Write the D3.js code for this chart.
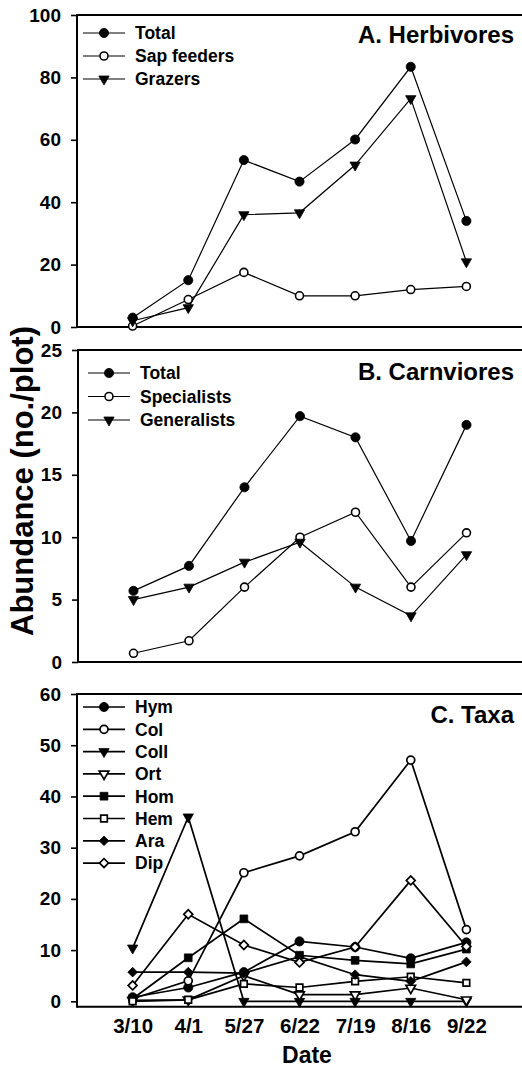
<!DOCTYPE html>
<html>
<head>
<meta charset="utf-8">
<script src="https://cdn.jsdelivr.net/npm/d3@7"></script>
<style>
  html, body { margin: 0; padding: 0; background: #fff; }
  svg { display: block; font-family: "Liberation Sans", Arial, sans-serif; font-weight: bold; }
</style>
</head>
<body>
<svg id="chart" width="522" height="1069"></svg>
<script>
// ---------------- data ----------------
const dates = ["3/10", "4/1", "5/27", "6/22", "7/19", "8/16", "9/22"];

// A. Herbivores
const herbTotal    = [3.0, 15.0, 53.5, 46.6, 60.1, 83.4, 34.0];
const herbSap      = [0.3, 8.8, 17.5, 10.0, 10.0, 12.0, 13.0];
const herbGrazers  = [2.0, 6.2, 36.0, 36.6, 51.9, 73.2, 20.9];
const herbNames    = ["Total", "Sap feeders", "Grazers"];
const herbTicks    = [0, 20, 40, 60, 80, 100];

// B. Carnivores
const carnTotal       = [5.7, 7.7, 14.0, 19.7, 18.0, 9.7, 19.0];
const carnSpecialists = [0.7, 1.7, 6.0, 10.0, 12.0, 6.0, 10.35];
const carnGeneralists = [5.0, 6.0, 8.0, 9.6, 6.0, 3.7, 8.6];
const carnNames       = ["Total", "Specialists", "Generalists"];
const carnTicks       = [0, 5, 10, 15, 20, 25];

// C. Taxa
const taxaHym  = [0.8, 2.7, 5.7, 11.7, 10.6, 8.4, 11.5];
const taxaCol  = [0.5, 4.0, 25.1, 28.4, 33.1, 47.1, 14.0];
const taxaColl = [10.4, 36.0, 0, 0, 0, 0, 0];
const taxaOrt  = [0.2, 0.3, 5.0, 1.3, 1.3, 2.6, 0.3];
const taxaHom  = [0.5, 8.5, 16.1, 9.0, 8.0, 7.3, 10.2];
const taxaHem  = [0.0, 0.3, 3.4, 2.7, 3.9, 4.8, 3.6];
const taxaAra  = [5.7, 5.7, 5.5, 8.7, 5.2, 3.9, 7.7];
const taxaDip  = [3.1, 17.0, 11.0, 7.6, 10.6, 23.6, 10.7];
const taxaNames = ["Hym", "Col", "Coll", "Ort", "Hom", "Hem", "Ara", "Dip"];
const taxaTicks = [0, 10, 20, 30, 40, 50, 60];

// ---------------- drawing ----------------
const svg = d3.select("#chart");
const W = 522;

// marker definitions: [symbol type, filled, rotation]
const markerDefs = {
  circleF:  {type: d3.symbolCircle,   size: 66, fill: true,  rot: 0},
  circleO:  {type: d3.symbolCircle,   size: 50, fill: false, rot: 0},
  triF:     {type: d3.symbolTriangle, size: 46, fill: true,  rot: 180},
  triO:     {type: d3.symbolTriangle, size: 40, fill: false, rot: 180},
  sqF:      {type: d3.symbolSquare,   size: 60, fill: true,  rot: 0},
  sqO:      {type: d3.symbolSquare,   size: 44, fill: false, rot: 0},
  diaF:     {type: d3.symbolSquare,   size: 46, fill: true,  rot: 45},
  diaO:     {type: d3.symbolSquare,   size: 40, fill: false, rot: 45}
};

function drawMarker(g, kind, x, y, sw) {
  const m = markerDefs[kind];
  g.append("path")
    .attr("d", d3.symbol(m.type, m.size)())
    .attr("transform", `translate(${x},${y}) rotate(${m.rot})`)
    .attr("fill", m.fill ? "#000" : "#fff")
    .attr("stroke", "#000")
    .attr("stroke-width", m.fill ? 0.8 : sw);
}

function panel(cfg) {
  const g = svg.append("g");
  const x = d3.scalePoint().domain(dates).range([cfg.axisX, W]).padding(1);
  const y = d3.scaleLinear().domain(cfg.domain).range([cfg.bottom, cfg.top]);

  // y axis ticks & labels
  const ax = g.append("g")
    .attr("transform", `translate(${cfg.axisX},0)`)
    .call(d3.axisLeft(y).tickValues(cfg.ticks).tickSize(6).tickPadding(10));
  ax.select(".domain").remove();
  ax.selectAll(".tick line").attr("stroke", "#000").attr("stroke-width", 1.6);
  ax.selectAll(".tick text")
    .attr("fill", "#000")
    .style("font-size", "19px")
    .style("font-weight", "bold")
    .style("font-family", '"Liberation Sans", Arial, sans-serif');

  // frame lines (left, top, bottom)
  const frame = g.append("g").attr("stroke", "#000").attr("stroke-width", 2).attr("fill", "none");
  frame.append("line").attr("x1", cfg.axisX).attr("x2", cfg.axisX).attr("y1", cfg.top - 1).attr("y2", cfg.bottom + 1);
  frame.append("line").attr("x1", cfg.axisX).attr("x2", W).attr("y1", cfg.top).attr("y2", cfg.top);
  frame.append("line").attr("x1", cfg.axisX).attr("x2", W).attr("y1", cfg.bottom).attr("y2", cfg.bottom);

  // series
  const line = d3.line().x((d, i) => x(dates[i])).y(d => y(d));
  cfg.series.forEach(s => {
    g.append("path")
      .attr("d", line(s.values))
      .attr("fill", "none")
      .attr("stroke", "#000")
      .attr("stroke-width", cfg.lineW);
    s.values.forEach((v, i) => drawMarker(g, s.marker, x(dates[i]), y(v), cfg.markW));
  });

  // legend
  cfg.series.forEach((s, i) => {
    const ly = cfg.legY + i * cfg.legStep;
    g.append("line")
      .attr("x1", cfg.legX).attr("x2", cfg.legX + 42)
      .attr("y1", ly).attr("y2", ly)
      .attr("stroke", "#000").attr("stroke-width", cfg.lineW);
    drawMarker(g, s.marker, cfg.legX + 21, ly, cfg.markW);
    g.append("text")
      .attr("x", cfg.legX + 52).attr("y", ly).attr("dy", "0.36em")
      .style("font-size", "17.5px")
      .text(s.name);
  });

  // title
  g.append("text")
    .attr("x", 514).attr("y", cfg.titleY)
    .attr("text-anchor", "end")
    .style("font-size", "24px")
    .text(cfg.title);

  return {g, x, y};
}

panel({
  top: 15, bottom: 327, axisX: 77, domain: [0, 100], ticks: herbTicks,
  lineW: 1.2, markW: 1.6, legX: 83, legY: 33, legStep: 23, titleY: 43,
  title: "A. Herbivores",
  series: [
    {name: herbNames[0], values: herbTotal,   marker: "circleF"},
    {name: herbNames[1], values: herbSap,     marker: "circleO"},
    {name: herbNames[2], values: herbGrazers, marker: "triF"}
  ]
});

panel({
  top: 350, bottom: 662, axisX: 78, domain: [0, 25], ticks: carnTicks,
  lineW: 1.2, markW: 1.6, legX: 88, legY: 373, legStep: 23.5, titleY: 380,
  title: "B. Carnviores",
  series: [
    {name: carnNames[0], values: carnTotal,       marker: "circleF"},
    {name: carnNames[1], values: carnSpecialists, marker: "circleO"},
    {name: carnNames[2], values: carnGeneralists, marker: "triF"}
  ]
});

const pC = panel({
  top: 694, bottom: 1006.7, axisX: 77, domain: [-1.05, 60], ticks: taxaTicks,
  lineW: 1.7, markW: 1.7, legX: 83, legY: 707, legStep: 22.3, titleY: 723,
  title: "C. Taxa",
  series: [
    {name: taxaNames[0], values: taxaHym,  marker: "circleF"},
    {name: taxaNames[1], values: taxaCol,  marker: "circleO"},
    {name: taxaNames[2], values: taxaColl, marker: "triF"},
    {name: taxaNames[3], values: taxaOrt,  marker: "triO"},
    {name: taxaNames[4], values: taxaHom,  marker: "sqF"},
    {name: taxaNames[5], values: taxaHem,  marker: "sqO"},
    {name: taxaNames[6], values: taxaAra,  marker: "diaF"},
    {name: taxaNames[7], values: taxaDip,  marker: "diaO"}
  ]
});

// x axis labels (bottom panel)
const xa = svg.append("g")
  .attr("transform", "translate(0,1006.7)")
  .call(d3.axisBottom(pC.x).tickSize(0).tickPadding(12));
xa.select(".domain").remove();
xa.selectAll(".tick text")
  .attr("fill", "#000")
  .style("font-size", "20.5px")
  .style("font-weight", "bold")
  .style("font-family", '"Liberation Sans", Arial, sans-serif');

svg.append("text")
  .attr("x", 307).attr("y", 1063)
  .attr("text-anchor", "middle")
  .style("font-size", "23px")
  .text("Date");

svg.append("text")
  .attr("transform", "translate(33,481) rotate(-90)")
  .attr("text-anchor", "middle")
  .style("font-size", "31px")
  .text("Abundance (no./plot)");
</script>
</body>
</html>
